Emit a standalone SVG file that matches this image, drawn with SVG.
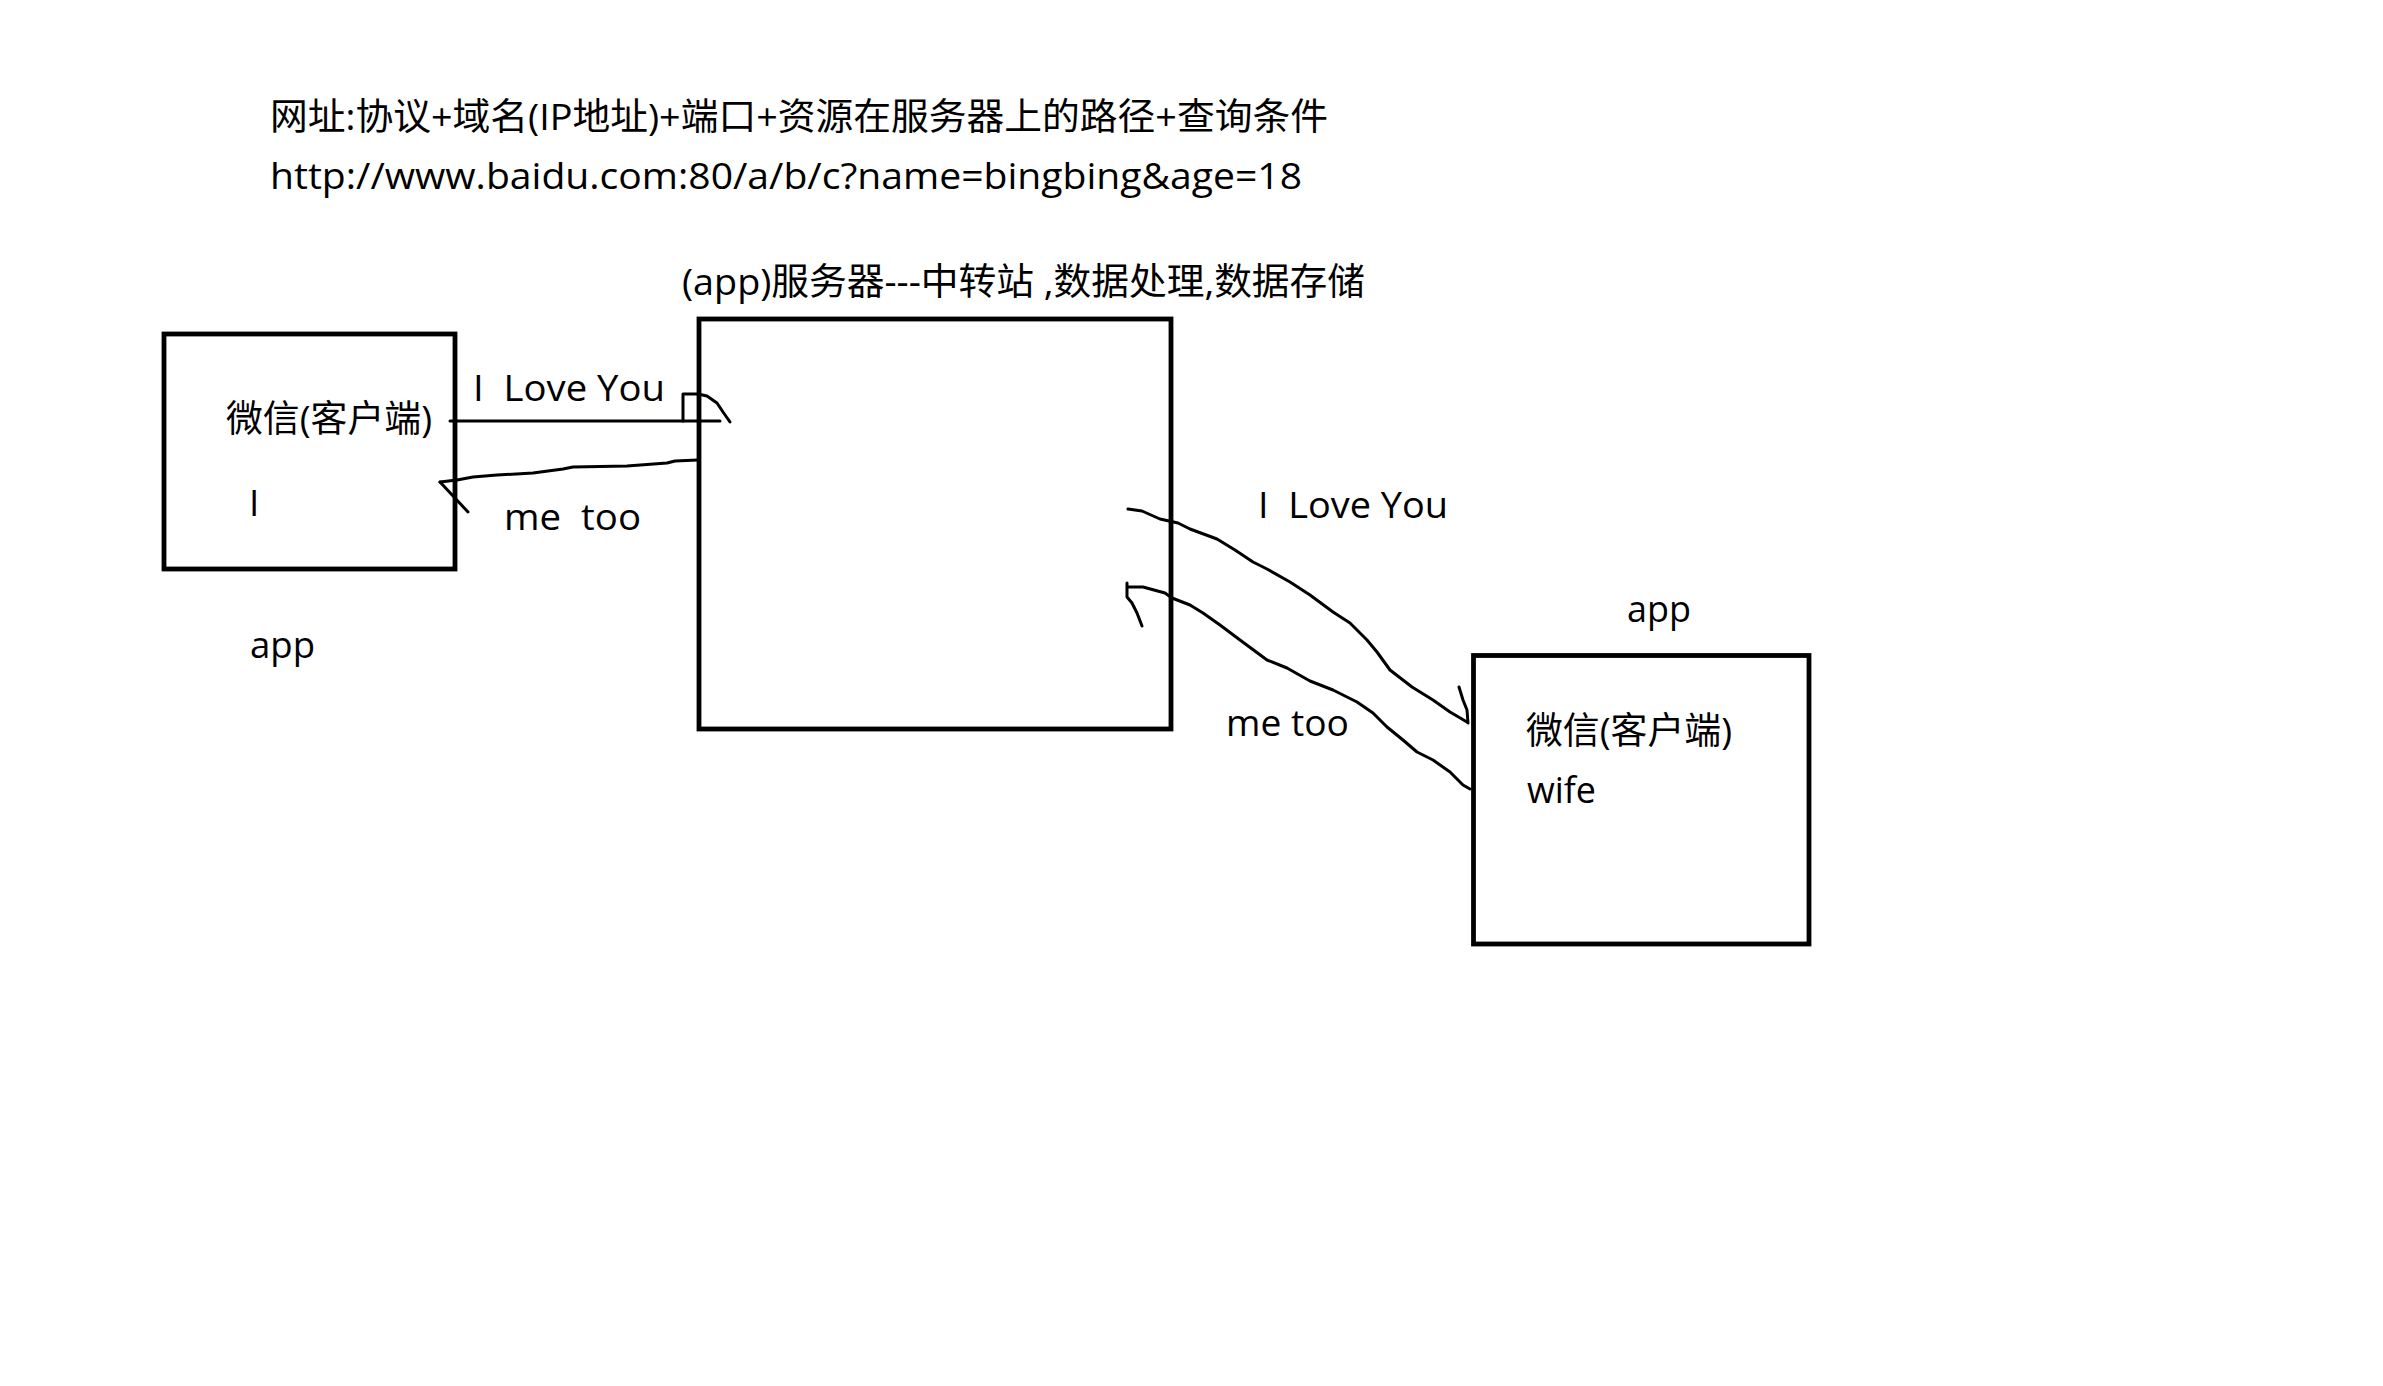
<svg xmlns="http://www.w3.org/2000/svg" width="2383" height="1386" viewBox="0 0 2383 1386">
<style>
  text { font-family: "Open Sans", "Noto Sans CJK SC", sans-serif; font-size: 37px; fill: #000; }
  .box { fill: none; stroke: #000; stroke-width: 4.8; }
  .ink { fill: none; stroke: #000; stroke-width: 3; stroke-linecap: round; stroke-linejoin: round; }
</style>
<rect width="2383" height="1386" fill="#fff"/>

<g id="title">
  <text x="270" y="130" textLength="1058" lengthAdjust="spacingAndGlyphs">网址:协议+域名(IP地址)+端口+资源在服务器上的路径+查询条件</text>
  <text x="270" y="189" textLength="1032" lengthAdjust="spacingAndGlyphs">http://www.baidu.com:80/a/b/c?name=bingbing&amp;age=18</text>
</g>

<g id="client-left">
  <rect class="box" x="164" y="334" width="291" height="235"/>
  <text x="226" y="432" textLength="206" lengthAdjust="spacingAndGlyphs">微信(客户端)</text>
  <text x="249" y="516">I</text>
  <text x="250" y="658" textLength="65" lengthAdjust="spacingAndGlyphs">app</text>
</g>

<g id="server">
  <text x="682" y="295" textLength="683" lengthAdjust="spacingAndGlyphs" xml:space="preserve">(app)服务器---中转站 ,数据处理,数据存储</text>
  <rect class="box" x="699" y="319" width="472" height="410"/>
</g>

<g id="client-right">
  <text x="1627" y="622" textLength="64" lengthAdjust="spacingAndGlyphs">app</text>
  <rect class="box" x="1473.5" y="655.5" width="335.5" height="288.5"/>
  <text x="1526" y="744" textLength="206" lengthAdjust="spacingAndGlyphs">微信(客户端)</text>
  <text x="1527" y="803" textLength="69" lengthAdjust="spacingAndGlyphs">wife</text>
</g>

<g id="connectors">
  <!-- left: I Love You -->
  <path class="ink" d="M450,421 L720,421"/>
  <path class="ink" d="M683,421 L683,394 L698,394"/>
  <path class="ink" d="M698,394 L707,396 L717,403 L723,412 L730,422"/>
  <!-- left: me too -->
  <path class="ink" d="M698,460 L675,461 L667,463 L627,466 L573,467 L563,469 L533,473 L497,475 L473,477 L457,480 L440,482"/>
  <path class="ink" d="M440,482 L468,512"/>
  <!-- right: I Love You -->
  <path class="ink" d="M1128,509 L1142,511 L1160,519 L1178,523 L1190,529 L1217,539 L1235,550 L1253,562 L1267,569 L1290,582 L1310,595 L1333,612 L1350,623 L1367,640 L1377,652 L1390,670 L1412,687 L1433,700 L1450,712 L1467,722"/>
  <path class="ink" d="M1459,687 L1463,700 L1467,710 L1468,723"/>
  <!-- right: me too -->
  <path class="ink" d="M1470,789 L1463,785 L1450,772 L1433,760 L1417,752 L1403,740 L1387,727 L1373,713 L1357,702 L1333,690 L1310,681 L1287,668 L1267,660 L1240,640 L1220,625 L1203,613 L1190,605 L1172,598 L1165,593 L1143,587 L1128,587"/>
  <path class="ink" d="M1127,583 L1127,597 L1132,603 L1137,613 L1142,626"/>
</g>

<g id="labels">
  <text x="473" y="401" textLength="192" lengthAdjust="spacingAndGlyphs" xml:space="preserve">I  Love You</text>
  <text x="504" y="530" textLength="137" lengthAdjust="spacingAndGlyphs" xml:space="preserve">me  too</text>
  <text x="1258" y="518" textLength="190" lengthAdjust="spacingAndGlyphs" xml:space="preserve">I  Love You</text>
  <text x="1226" y="736" textLength="123" lengthAdjust="spacingAndGlyphs">me too</text>
</g>
</svg>
